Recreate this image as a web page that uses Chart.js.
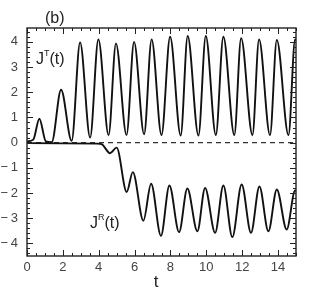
<!DOCTYPE html>
<html>
<head>
<meta charset="utf-8">
<script src="https://cdn.jsdelivr.net/npm/chart.js@4"></script>
<style>
  body { margin: 0; background: #fff; }
  #wrap { width: 312px; height: 298px; position: relative; }
</style>
</head>
<body>
<div id="wrap"><canvas id="c"></canvas></div>
<script>
// J^T(t): peaks and troughs
const tT = [0, 0.35, 0.69, 1.05, 1.38, 1.9, 2.49, 2.96, 3.52, 3.98, 4.55, 4.96, 5.55, 5.97, 6.53, 6.95,
  7.5, 7.98, 8.57, 8.96, 9.56, 9.97, 10.53, 10.95, 11.56, 11.94, 12.57, 12.94, 13.55, 13.93, 14.58, 14.95, 15];
const vT = [0.05, 0.12, 0.95, 0.05, 0.02, 2.1, 0.07, 3.98, 0.2, 4.1, 0.3, 3.94, 0.3, 4.0, 0.33, 4.1,
  0.3, 4.2, 0.28, 4.23, 0.28, 4.23, 0.3, 4.2, 0.3, 4.15, 0.3, 4.1, 0.3, 4.08, 0.3, 4.1, 4.05];

// J^R(t)
const tR = [0, 3.9, 4.16, 4.63, 5.0, 5.56, 5.9, 6.49, 6.92, 7.47, 7.94, 8.48, 8.94, 9.5, 9.93,
  10.49, 10.95, 11.45, 11.97, 12.49, 12.96, 13.46, 13.93, 14.48, 14.95, 15];
const vR = [-0.02, -0.04, -0.06, -0.42, -0.2, -1.96, -1.17, -3.1, -1.63, -3.7, -1.7, -3.55, -1.82, -3.52, -1.8,
  -3.58, -1.7, -3.75, -1.66, -3.58, -1.74, -3.52, -1.86, -3.45, -1.9, -1.92];

// dashed zero line
const tZero = [0, 15];
const vZero = [0, 0];

const xTicks = [0, 2, 4, 6, 8, 10, 12, 14];
const yTicks = [-4, -3, -2, -1, 0, 1, 2, 3, 4];

const pts = (xs, ys) => xs.map((x, i) => ({x: x, y: ys[i]}));

const labelFont = '"Liberation Sans", Arial, sans-serif';

function drawJ(ctx, x, y, sup) {
  ctx.font = '16px ' + labelFont;
  ctx.fillText('J', x, y);
  let w = ctx.measureText('J').width;
  ctx.font = '9px ' + labelFont;
  ctx.fillText(sup, x + w, y - 8);
  let w2 = ctx.measureText(sup).width;
  ctx.font = '16px ' + labelFont;
  ctx.fillText('(t)', x + w + w2, y);
}

const frame = {
  id: 'frame',
  afterDatasetsDraw(chart) {
    const ctx = chart.ctx;
    const a = chart.chartArea;
    const xs = chart.scales.x, ys = chart.scales.y;
    ctx.save();
    ctx.strokeStyle = '#222';
    ctx.lineWidth = 1.4;
    ctx.strokeRect(a.left, a.top, a.right - a.left, a.bottom - a.top);
    ctx.lineWidth = 1;
    ctx.beginPath();
    // x ticks, every 0.5, long at labelled ones
    for (let i = 0; i <= 30; i++) {
      const v = i / 2;
      const px = Math.round(xs.getPixelForValue(v)) + 0.5;
      const len = xTicks.includes(v) ? 6 : 3;
      ctx.moveTo(px, a.bottom); ctx.lineTo(px, a.bottom - len);
      ctx.moveTo(px, a.top); ctx.lineTo(px, a.top + len);
    }
    // y ticks, every 0.2
    for (let i = -22; i <= 22; i++) {
      const v = i / 5;
      const py = Math.round(ys.getPixelForValue(v)) + 0.5;
      const len = (i % 5 === 0) ? 6 : 3;
      ctx.moveTo(a.left, py); ctx.lineTo(a.left + len, py);
      ctx.moveTo(a.right, py); ctx.lineTo(a.right - len, py);
    }
    ctx.stroke();

    ctx.fillStyle = '#222';
    ctx.textBaseline = 'alphabetic';
    ctx.textAlign = 'left';
    ctx.font = '16px ' + labelFont;
    ctx.fillText('(b)', 45, 23);
    drawJ(ctx, 36, 64, 'T');
    drawJ(ctx, 90, 228, 'R');
    ctx.textAlign = 'center';
    ctx.font = '17px ' + labelFont;
    ctx.fillText('t', 156, 287);
    ctx.restore();
  }
};

new Chart(document.getElementById('c'), {
  type: 'line',
  data: {
    datasets: [
      {data: pts(tT, vT), borderColor: '#111', borderWidth: 1.9, pointRadius: 0,
        cubicInterpolationMode: 'monotone', order: 1},
      {data: pts(tR, vR), borderColor: '#111', borderWidth: 1.9, pointRadius: 0,
        cubicInterpolationMode: 'monotone', order: 1},
      {data: pts(tZero, vZero), borderColor: '#333', borderWidth: 1.2, pointRadius: 0,
        borderDash: [5, 4], order: 3}
    ]
  },
  options: {
    responsive: true,
    maintainAspectRatio: false,
    animation: false,
    devicePixelRatio: 1,
    layout: {padding: {top: 28, right: 16, left: 0, bottom: 0}},
    plugins: {legend: {display: false}, tooltip: {enabled: false}},
    scales: {
      x: {
        type: 'linear', min: 0, max: 15,
        grid: {display: false, drawTicks: false}, border: {display: false},
        ticks: {padding: 4, color: '#444', font: {family: labelFont, size: 13}, maxRotation: 0},
        afterBuildTicks: s => { s.ticks = xTicks.map(v => ({value: v})); },
        afterFit: s => { s.height = 42; }
      },
      y: {
        min: -4.5, max: 4.55,
        grid: {display: false, drawTicks: false}, border: {display: false},
        ticks: {padding: 9, color: '#444', font: {family: labelFont, size: 13},
          callback: v => v < 0 ? '\u2212\u2009' + Math.abs(v) : '' + v},
        afterBuildTicks: s => { s.ticks = yTicks.map(v => ({value: v})); },
        afterFit: s => { s.width = 27; }
      }
    }
  },
  plugins: [frame]
});
</script>
</body>
</html>
